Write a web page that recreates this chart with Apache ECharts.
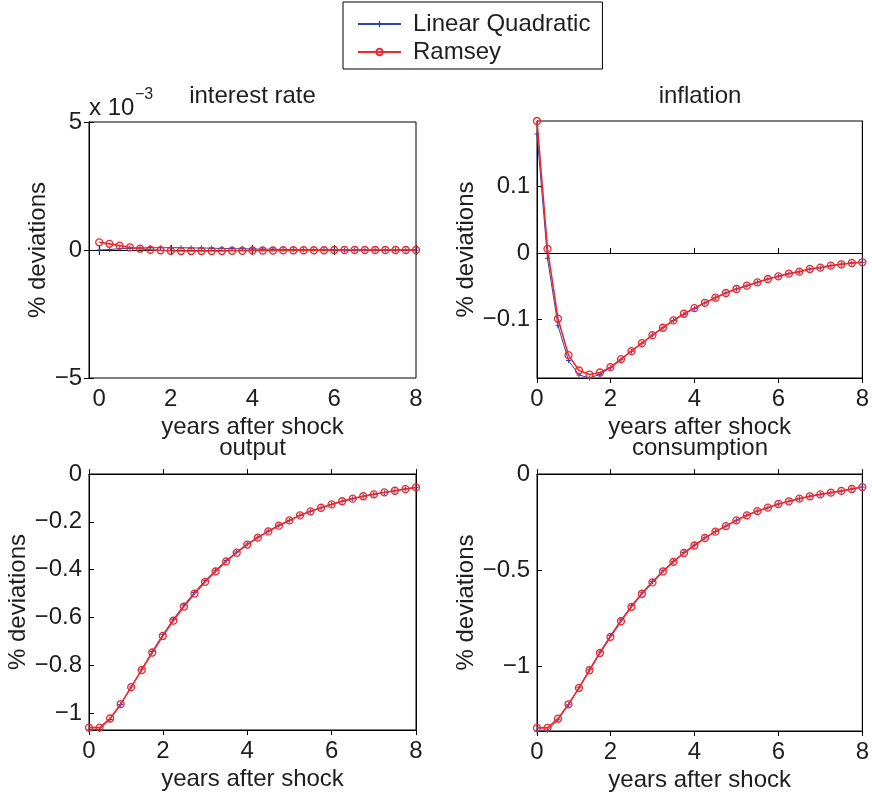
<!DOCTYPE html>
<html><head><meta charset="utf-8">
<script src="https://cdn.jsdelivr.net/npm/echarts@6/dist/echarts.min.js"></script>
<style>html,body{margin:0;padding:0;background:#fff}#c{width:872px;height:795px}</style>
</head><body><div id="c"></div>
<script>
// ---- data ----
const years = [0.25,0.5,0.75,1,1.25,1.5,1.75,2,2.25,2.5,2.75,3,3.25,3.5,3.75,4,4.25,4.5,4.75,5,5.25,5.5,5.75,6,6.25,6.5,6.75,7,7.25,7.5,7.75,8];
const xTickValues = [0.25,2,4,6,8];
const xTickLabels = ['0','2','4','6','8'];
const seriesNames = ['Linear Quadratic','Ramsey'];
const panelTitles = ['interest rate','inflation','output','consumption'];

const irLQ = [0,0.00002,0.00005,0.00007,0.00008,0.00009,0.00009,0.00009,0.00009,0.00008,0.00008,0.00007,0.00006,0.00005,0.00005,0.00004,0.00003,0.00003,0.00002,0.00002,0.00001,0.00001,0.00001,0.00001,0,0,0,0,0,0,0,0];
const irRamsey = [0.00030,0.00024,0.00017,0.00010,0.00005,0.00001,-0.00001,-0.00003,-0.00004,-0.00004,-0.00004,-0.00004,-0.00004,-0.00003,-0.00003,-0.00002,-0.00002,-0.00002,-0.00001,-0.00001,-0.00001,-0.00001,-0.00001,0,0,0,0,0,0,0,0,0];
const inflLQ = [0.178,-0.008,-0.109,-0.161,-0.1826,-0.1872,-0.1816,-0.172,-0.160,-0.147,-0.135,-0.123,-0.112,-0.101,-0.092,-0.083,-0.075,-0.067,-0.060,-0.054,-0.049,-0.044,-0.039,-0.035,-0.031,-0.028,-0.024,-0.022,-0.019,-0.017,-0.015,-0.014];
const inflRamsey = [0.1975,0.006,-0.0985,-0.153,-0.176,-0.182,-0.179,-0.171,-0.159,-0.147,-0.135,-0.123,-0.112,-0.101,-0.091,-0.0826,-0.0746,-0.067,-0.060,-0.054,-0.049,-0.044,-0.039,-0.035,-0.031,-0.028,-0.024,-0.022,-0.019,-0.017,-0.015,-0.014];
const outLQ = [-1.070,-1.068,-1.026,-0.963,-0.890,-0.816,-0.742,-0.672,-0.607,-0.548,-0.495,-0.446,-0.402,-0.362,-0.326,-0.293,-0.264,-0.238,-0.214,-0.193,-0.173,-0.156,-0.141,-0.127,-0.114,-0.103,-0.093,-0.085,-0.077,-0.070,-0.063,-0.056];
const outRamsey = [-1.060,-1.060,-1.022,-0.962,-0.891,-0.819,-0.746,-0.677,-0.613,-0.554,-0.500,-0.451,-0.407,-0.365,-0.329,-0.295,-0.266,-0.240,-0.216,-0.194,-0.173,-0.156,-0.141,-0.127,-0.114,-0.103,-0.093,-0.085,-0.077,-0.070,-0.063,-0.056];
const consLQ = [-1.337,-1.333,-1.278,-1.200,-1.112,-1.018,-0.926,-0.841,-0.760,-0.686,-0.618,-0.559,-0.503,-0.454,-0.409,-0.370,-0.332,-0.299,-0.270,-0.241,-0.215,-0.193,-0.175,-0.156,-0.142,-0.128,-0.116,-0.106,-0.097,-0.088,-0.078,-0.068];
const consRamsey = [-1.321,-1.321,-1.273,-1.198,-1.113,-1.021,-0.931,-0.847,-0.766,-0.691,-0.623,-0.564,-0.507,-0.457,-0.411,-0.372,-0.333,-0.300,-0.271,-0.241,-0.215,-0.193,-0.175,-0.156,-0.142,-0.128,-0.116,-0.106,-0.097,-0.088,-0.078,-0.068];

const irYTicks = [-0.005,0,0.005];      const irYLabels = ['\u22125','0','5'];
const inflYTicks = [-0.1,0,0.1];        const inflYLabels = ['\u22120.1','0','0.1'];
const outYTicks = [-1,-0.8,-0.6,-0.4,-0.2,0]; const outYLabels = ['\u22121','\u22120.8','\u22120.6','\u22120.4','\u22120.2','0'];
const consYTicks = [-1,-0.5,0];         const consYLabels = ['\u22121','\u22120.5','0'];

// ---- layout / style ----
const FONT = 'Liberation Sans, Arial, Helvetica, sans-serif';
const TXT = '#1e1e1e';
const BLUE = '#2b44b3';
const RED = '#ec2a2e';
const FS = 24;
const grids = [
  {left:89, top:122, width:327, height:256},
  {left:537, top:121, width:326, height:257},
  {left:89, top:474, width:327, height:256},
  {left:537, top:474, width:326, height:257}
];
const panels = [
  {lq:irLQ, ra:irRamsey, yTicks:irYTicks, yLabels:irYLabels, xMin:0, yMin:-0.005, yMax:0.005, zero:true, nameGap:36},
  {lq:inflLQ, ra:inflRamsey, yTicks:inflYTicks, yLabels:inflYLabels, xMin:0.25, yMin:v=>v.min, yMax:v=>v.max, zero:true, nameGap:58},
  {lq:outLQ, ra:outRamsey, yTicks:outYTicks, yLabels:outYLabels, xMin:0.25, yMin:v=>v.min, yMax:0, zero:false, nameGap:52},
  {lq:consLQ, ra:consRamsey, yTicks:consYTicks, yLabels:consYLabels, xMin:0.25, yMin:v=>v.min, yMax:0, zero:false, nameGap:58}
];
function labelFor(ticks, labels){
  return function(v){
    for (let i=0;i<ticks.length;i++){ if (Math.abs(v-ticks[i])<1e-9) return labels[i]; }
    return '';
  };
}
const axLine = {show:true, lineStyle:{color:'#000', width:1}};
const tickStyle = {lineStyle:{color:'#000', width:1}, inside:true, length:5};
const plusPath = 'path://M2,0H3V2H5V3H3V5H2V3H0V2H2Z';

const xAxis=[], yAxis=[], series=[], title=[];
panels.forEach((p,i)=>{
  xAxis.push({type:'value', gridIndex:i, min:p.xMin, max:8, position:'bottom',
    name:'years after shock', nameLocation:'middle', nameGap:37,
    nameTextStyle:{fontSize:FS, color:TXT, fontFamily:FONT},
    axisLine:axLine, splitLine:{show:false},
    axisTick:Object.assign({customValues:xTickValues}, tickStyle),
    axisLabel:{customValues:xTickValues, formatter:labelFor(xTickValues,xTickLabels), fontSize:FS, color:TXT, fontFamily:FONT, margin:9}
  });
  xAxis.push({type:'value', gridIndex:i, min:p.xMin, max:8, position:'top',
    axisLine:axLine, splitLine:{show:false},
    axisTick:Object.assign({customValues:xTickValues}, tickStyle),
    axisLabel:{show:false}
  });
  yAxis.push({type:'value', gridIndex:i, min:p.yMin, max:p.yMax, position:'left',
    name:'% deviations', nameLocation:'middle', nameGap:p.nameGap,
    nameTextStyle:{fontSize:FS, color:TXT, fontFamily:FONT},
    axisLine:axLine, splitLine:{show:false},
    axisTick:Object.assign({customValues:p.yTicks}, tickStyle),
    axisLabel:{customValues:p.yTicks, formatter:labelFor(p.yTicks,p.yLabels), fontSize:FS, color:TXT, fontFamily:FONT, margin:7}
  });
  yAxis.push({type:'value', gridIndex:i, min:p.yMin, max:p.yMax, position:'right',
    axisLine:axLine, splitLine:{show:false},
    axisTick:Object.assign({customValues:p.yTicks}, tickStyle),
    axisLabel:{show:false}
  });
  const lqSeries = {
    name:seriesNames[0], type:'line', xAxisIndex:2*i, yAxisIndex:2*i,
    data:years.map((x,j)=>[x,p.lq[j]]),
    symbol:plusPath, symbolSize:5, showAllSymbol:true,
    lineStyle:{color:BLUE, width:1}, itemStyle:{color:BLUE},
    z:3
  };
  if (p.zero){
    lqSeries.markLine = {silent:true, symbol:'none', animation:false, label:{show:false},
      lineStyle:{color:'#000', width:1, type:'solid'}, data:[{yAxis:0}], z:1};
  }
  series.push(lqSeries);
  series.push({
    name:seriesNames[1], type:'line', xAxisIndex:2*i, yAxisIndex:2*i,
    data:years.map((x,j)=>[x,p.ra[j]]),
    symbol:'circle', symbolSize:7, showAllSymbol:true,
    lineStyle:{color:RED, width:1.6}, itemStyle:{color:'rgba(255,255,255,0)', borderColor:RED, borderWidth:1.3},
    z:4
  });
  const g = grids[i];
  title.push({text:panelTitles[i], left:g.left+g.width/2, top:(i<2?84:436), textAlign:'center', padding:0,
    textStyle:{fontSize:FS, fontWeight:'normal', color:TXT, fontFamily:FONT}});
});

const option = {
  animation:false,
  backgroundColor:'#fff',
  title:title,
  legend:{
    data:seriesNames, orient:'vertical', left:343, top:2,
    borderColor:'#000', borderWidth:1, backgroundColor:'#fff',
    padding:[10,12,5,14], itemGap:4, itemWidth:43, itemHeight:8,
    textStyle:{fontSize:FS, color:TXT, fontFamily:FONT, padding:[0,0,0,7]}
  },
  grid:grids.map(g=>Object.assign({show:true, borderColor:'#000', borderWidth:1, backgroundColor:'#fff', containLabel:false}, g)),
  xAxis:xAxis, yAxis:yAxis, series:series,
  graphic:[
    {type:'text', left:89, top:96, style:{text:'x 10', fontSize:FS, fill:TXT, fontFamily:FONT}},
    {type:'text', left:135, top:87, style:{text:'\u22123', fontSize:16, fill:TXT, fontFamily:FONT}}
  ]
};
const chart = echarts.init(document.getElementById('c'), null, {renderer:'canvas'});
chart.setOption(option);
</script>
</body></html>
